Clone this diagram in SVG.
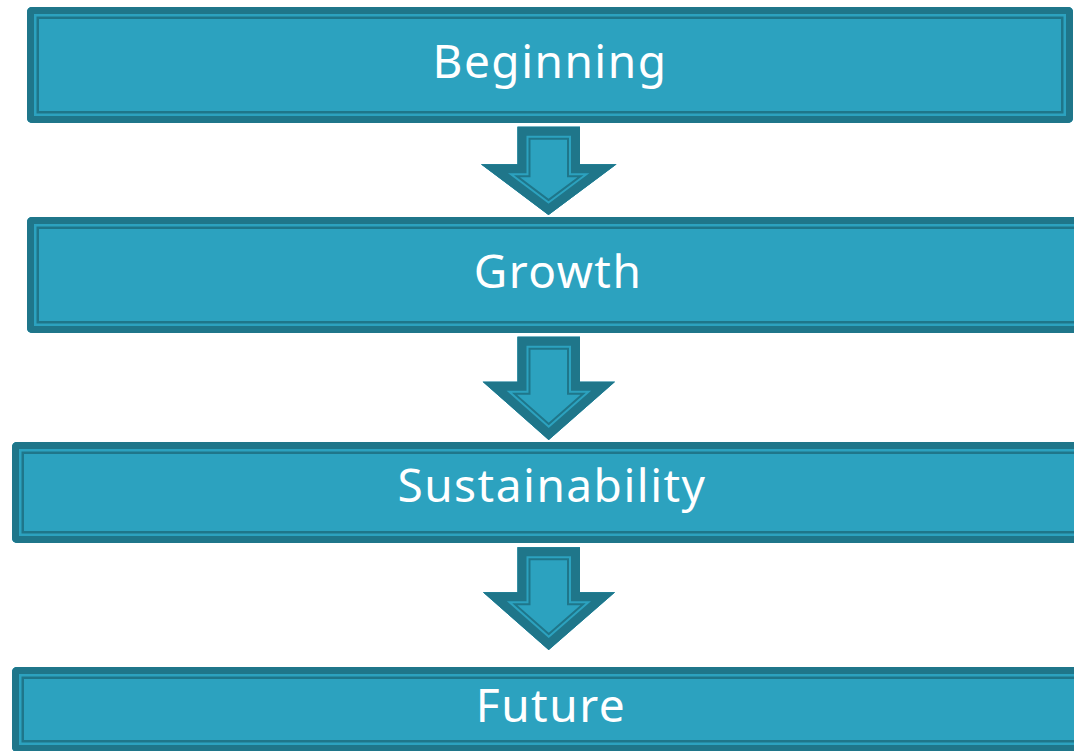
<svg xmlns="http://www.w3.org/2000/svg" xmlns:xlink="http://www.w3.org/1999/xlink" width="1074" height="751" viewBox="0 0 1074 751">
<style>
.lbl{font-family:"Noto Sans","Open Sans","DejaVu Sans",sans-serif;font-size:46px;fill:#ffffff;text-anchor:middle;letter-spacing:1.5px}
.base{fill:#2CA2BF;stroke:#1F768A;stroke-width:24}
.mid{fill:none;stroke:#2CA2BF;stroke-width:19}
.out{fill:none;stroke:#1F768A;stroke-width:14}
.abase{fill:#2CA2BF;stroke:#1F768A;stroke-width:26;stroke-linejoin:miter;stroke-miterlimit:10}
.amid{fill:none;stroke:#2CA2BF;stroke-width:22;stroke-linejoin:miter;stroke-miterlimit:10}
.aout{fill:none;stroke:#1F768A;stroke-width:18;stroke-linejoin:miter;stroke-miterlimit:10}
</style>
<defs>
<rect id="r1" x="27" y="7" width="1046" height="116" rx="5"/>
<rect id="r2" x="27" y="217" width="1062" height="116" rx="5"/>
<rect id="r3" x="12" y="442" width="1078" height="101" rx="5"/>
<rect id="r4" x="12" y="667" width="1078" height="85" rx="5"/>
<polygon id="p1" points="517.5,126.7 580,126.7 580,164.3 616.5,164.3 548.5,215 481,164.3 517.5,164.3"/>
<polygon id="p2" points="517.5,336.7 580,336.7 580,381.7 615,381.7 548.7,440 482.7,381.7 517.5,381.7"/>
<polygon id="p3" points="517.5,547.3 580,547.3 580,592.3 615,592.3 548.7,650 483,592.3 517.5,592.3"/>
<clipPath id="cr1"><use xlink:href="#r1"/></clipPath>
<clipPath id="cr2"><use xlink:href="#r2"/></clipPath>
<clipPath id="cr3"><use xlink:href="#r3"/></clipPath>
<clipPath id="cr4"><use xlink:href="#r4"/></clipPath>
<clipPath id="cp1"><use xlink:href="#p1"/></clipPath>
<clipPath id="cp2"><use xlink:href="#p2"/></clipPath>
<clipPath id="cp3"><use xlink:href="#p3"/></clipPath>
</defs>
<g id="connectors">
<g id="arrow1" clip-path="url(#cp1)"><use xlink:href="#p1" class="abase"/><use xlink:href="#p1" class="amid"/><use xlink:href="#p1" class="aout"/></g>
<g id="arrow2" clip-path="url(#cp2)"><use xlink:href="#p2" class="abase"/><use xlink:href="#p2" class="amid"/><use xlink:href="#p2" class="aout"/></g>
<g id="arrow3" clip-path="url(#cp3)"><use xlink:href="#p3" class="abase"/><use xlink:href="#p3" class="amid"/><use xlink:href="#p3" class="aout"/></g>
</g>
<g id="node-beginning">
<g clip-path="url(#cr1)"><use xlink:href="#r1" class="base"/><use xlink:href="#r1" class="mid"/><use xlink:href="#r1" class="out"/></g>
<text class="lbl" x="550" y="78">Beginning</text>
</g>
<g id="node-growth">
<g clip-path="url(#cr2)"><use xlink:href="#r2" class="base"/><use xlink:href="#r2" class="mid"/><use xlink:href="#r2" class="out"/></g>
<text class="lbl" x="558" y="288">Growth</text>
</g>
<g id="node-sustainability">
<g clip-path="url(#cr3)"><use xlink:href="#r3" class="base"/><use xlink:href="#r3" class="mid"/><use xlink:href="#r3" class="out"/></g>
<text class="lbl" x="552" y="502">Sustainability</text>
</g>
<g id="node-future">
<g clip-path="url(#cr4)"><use xlink:href="#r4" class="base"/><use xlink:href="#r4" class="mid"/><use xlink:href="#r4" class="out"/></g>
<text class="lbl" x="551" y="722">Future</text>
</g>
</svg>
